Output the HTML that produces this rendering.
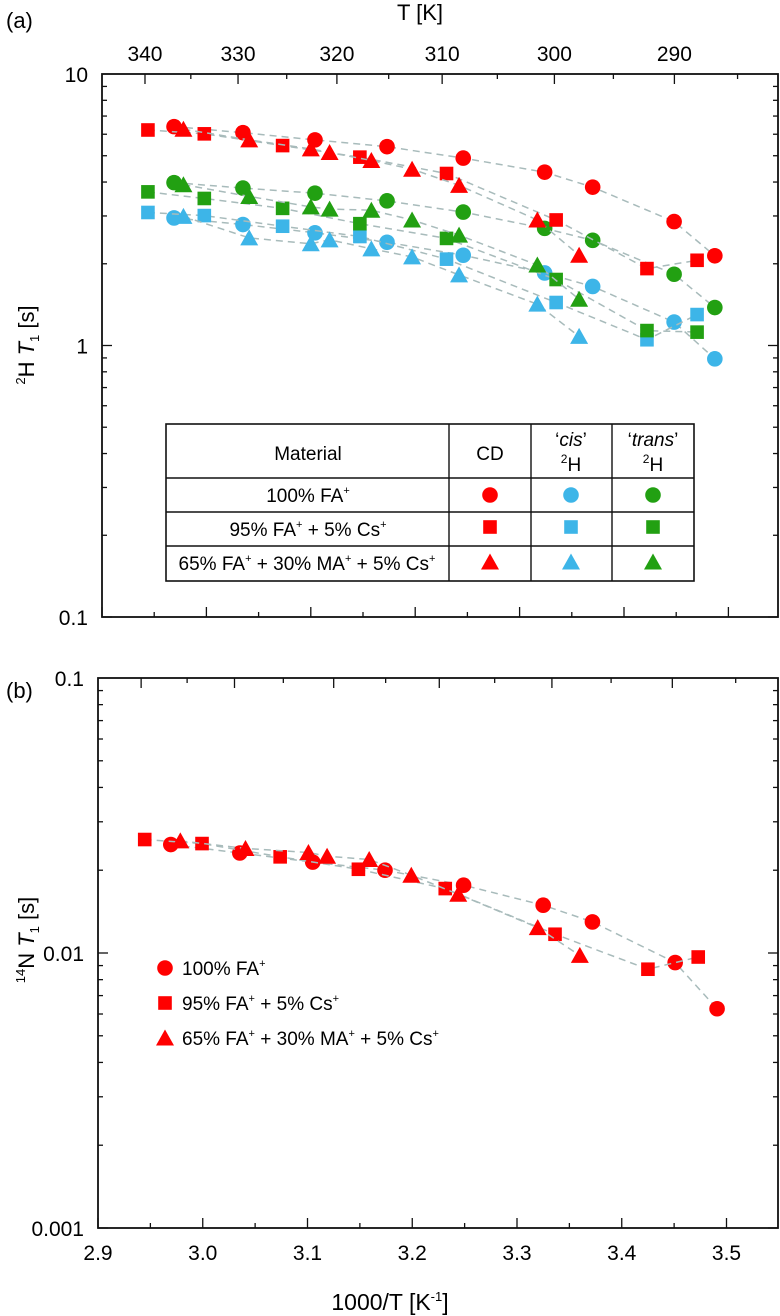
<!DOCTYPE html>
<html><head><meta charset="utf-8"><style>
html,body{margin:0;padding:0;background:#fff;}
svg{display:block;font-family:"Liberation Sans",Arial,sans-serif;}
</style></head><body>
<svg id="fig" width="780" height="1316" viewBox="0 0 780 1316" xmlns="http://www.w3.org/2000/svg">
<g id="static">
<text x="6" y="28" font-size="22">(a)</text>
<text x="6" y="698" font-size="22">(b)</text>
<text x="420" y="20" font-size="22" text-anchor="middle">T [K]</text>
<text x="390" y="1310" font-size="23" text-anchor="middle">1000/T [K<tspan font-size="13" dy="-9">-1</tspan><tspan dy="9">]</tspan></text>
<text transform="translate(34,345) rotate(-90)" font-size="22" text-anchor="middle"><tspan font-size="13" dy="-9">2</tspan><tspan dy="9">H </tspan><tspan font-style="italic">T</tspan><tspan font-size="13" dy="5">1</tspan><tspan dy="-5"> [s]</tspan></text>
<text transform="translate(34,940) rotate(-90)" font-size="22" text-anchor="middle"><tspan font-size="13" dy="-9">14</tspan><tspan dy="9">N </tspan><tspan font-style="italic">T</tspan><tspan font-size="13" dy="5">1</tspan><tspan dy="-5"> [s]</tspan></text>
</g>
<g id="plots"></g>
</svg>
<script>
// Panel (a) data: x = 1000/T, y = 2H T1 [s]
const aCircX = [2.969,3.035,3.104,3.173,3.246,3.324,3.370,3.448,3.487];
const aCircCD = [6.40,6.08,5.72,5.40,4.90,4.35,3.83,2.86,2.14];
const aCircCis = [2.95,2.79,2.60,2.40,2.15,1.85,1.65,1.22,0.893];
const aCircTrans = [3.98,3.80,3.64,3.41,3.10,2.70,2.44,1.83,1.38];
const aSqX = [2.944,2.998,3.073,3.147,3.230,3.335,3.422,3.470];
const aSqCD = [6.22,6.02,5.45,4.94,4.30,2.90,1.92,2.06];
const aSqCis = [3.09,3.01,2.75,2.52,2.08,1.44,1.05,1.30];
const aSqTrans = [3.68,3.48,3.20,2.81,2.48,1.75,1.135,1.12];
const aTriX = [2.978,3.041,3.100,3.118,3.158,3.197,3.242,3.317,3.357];
const aTriCD = [6.26,5.72,5.30,5.14,4.80,4.46,3.89,2.90,2.15];
const aTriCis = [2.99,2.49,2.37,2.45,2.27,2.12,1.82,1.42,1.08];
const aTriTrans = [3.91,3.54,3.24,3.18,3.15,2.90,2.55,1.98,1.48];
// Panel (b) data: 14N T1 [s]
const bCircX = [2.9695,3.0354,3.105,3.174,3.249,3.325,3.372,3.451,3.491];
const bCircY = [0.0248,0.0231,0.0214,0.0200,0.01764,0.01492,0.01297,0.00923,0.00627];
const bSqX = [2.9446,2.9993,3.0739,3.1486,3.2315,3.3363,3.425,3.473];
const bSqY = [0.02586,0.0250,0.02237,0.02016,0.01715,0.0117,0.00873,0.00967];
const bTriX = [2.9786,3.0408,3.1009,3.1187,3.1589,3.1991,3.2439,3.3198,3.36];
const bTriY = [0.02557,0.0240,0.0232,0.02249,0.02188,0.01918,0.01636,0.01237,0.0098];
const xTickLabels = ["2.9","3.0","3.1","3.2","3.3","3.4","3.5"];
const tTickLabels = ["340","330","320","310","300","290"];
const aYLabels = ["10","1","0.1"];
const bYLabels = ["0.1","0.01","0.001"];

const RED="#ff0000", CYAN="#3db5e8", GREEN="#22a012", LINE="#a8bbbb";
const NS="http://www.w3.org/2000/svg";
const root=document.getElementById('plots');
function mk(tag,attrs,parent){const e=document.createElementNS(NS,tag);for(const k in attrs)e.setAttribute(k,attrs[k]);(parent||root).appendChild(e);return e;}

function panel(cfg){
  const {L,R,T,B,x0,sx,logTop,decades,yLabels,name,bottomLabels}=cfg;
  const X=v=>L+(v-x0)*sx;
  const dec=(B-T)/decades;
  const Y=v=>T+(logTop-Math.log10(v))*dec;
  const g=mk('g',{});
  
  
  const box=mk('rect',{x:L,y:T,width:R-L,height:B-T,fill:'none',stroke:'#111','stroke-width':1.8},g);
  
  
  for(let i=0;i<=13;i++){const v=2.9+i*0.05;const x=X(v);if(x>R)break;const len=i%2==0?10:5;
    mk('line',{x1:x,x2:x,y1:B,y2:B-len,stroke:'#111','stroke-width':1.3},g);}
  if(bottomLabels){xTickLabels.forEach((s,i)=>{const t=mk('text',{x:X(2.9+i*0.1),y:B+32,'font-size':21,'text-anchor':'middle'},g);t.textContent=s;
    
    });}
  for(let k=0;k<=11;k++){const TT=340-k*5;const x=X(1000/TT);const len=k%2==0?10:5;
    mk('line',{x1:x,x2:x,y1:T,y2:T+len,stroke:'#111','stroke-width':1.3},g);}
  if(cfg.topLabels){tTickLabels.forEach((s,i)=>{const t=mk('text',{x:X(1000/(340-i*10)),y:T-13,'font-size':21,'text-anchor':'middle'},g);t.textContent=s;
    
    });}
  for(let d=0;d<decades;d++){for(let m=1;m<=9;m++){const v=Math.pow(10,logTop-d-1)*m;const y=Y(v);const len=m==1?10:5;
    mk('line',{x1:L,x2:L+len,y1:y,y2:y,stroke:'#111','stroke-width':1.3},g);
    mk('line',{x1:R,x2:R-len,y1:y,y2:y,stroke:'#111','stroke-width':1.3},g);}}
  yLabels.forEach((s,i)=>{const t=mk('text',{x:L-14,y:T+i*dec+8,'font-size':21,'text-anchor':'end'},g);t.textContent=s;
    
    });
  return {X,Y,g};
}
function series(P,xs,ys,shape,color,name){
  const pts=xs.map((x,i)=>P.X(x).toFixed(1)+','+P.Y(ys[i]).toFixed(1)).join(' ');
  const pl=mk('polyline',{points:pts,fill:'none',stroke:LINE,'stroke-width':1.5,'stroke-dasharray':'7,5'},P.g);
  
  
  xs.forEach((x,i)=>{const e=marker(P.X(x),P.Y(ys[i]),shape,color,P.g);
    
    });
}
function marker(cx,cy,shape,color,parent){
  if(shape=='c')return mk('circle',{cx:cx,cy:cy,r:7.8,fill:color},parent);
  if(shape=='s')return mk('rect',{x:cx-6.8,y:cy-6.8,width:13.6,height:13.6,fill:color},parent);
  return mk('polygon',{points:`${cx},${cy-8.5} ${cx+9},${cy+7.5} ${cx-9},${cy+7.5}`,fill:color},parent);
}
const A=panel({L:102,R:778,T:74,B:617,x0:2.9,sx:1044,logTop:1,decades:2,yLabels:aYLabels,name:'panel-a',topLabels:true,bottomLabels:false});
series(A,aCircX,aCircCD,'c',RED,'a-circle-cd');
series(A,aCircX,aCircCis,'c',CYAN,'a-circle-cis');
series(A,aCircX,aCircTrans,'c',GREEN,'a-circle-trans');
series(A,aSqX,aSqCD,'s',RED,'a-square-cd');
series(A,aSqX,aSqCis,'s',CYAN,'a-square-cis');
series(A,aSqX,aSqTrans,'s',GREEN,'a-square-trans');
series(A,aTriX,aTriCD,'t',RED,'a-triangle-cd');
series(A,aTriX,aTriCis,'t',CYAN,'a-triangle-cis');
series(A,aTriX,aTriTrans,'t',GREEN,'a-triangle-trans');

const B=panel({L:98,R:778,T:678,B:1228,x0:2.9,sx:1047.5,logTop:-1,decades:2,yLabels:bYLabels,name:'panel-b',topLabels:false,bottomLabels:true});
series(B,bCircX,bCircY,'c',RED,'b-circle');
series(B,bSqX,bSqY,'s',RED,'b-square');
series(B,bTriX,bTriY,'t',RED,'b-triangle');

const tg=mk('g',{});


mk('rect',{x:166,y:424,width:528,height:157,fill:'#fff',stroke:'#111','stroke-width':1.6},tg);
[478,512,546].forEach(y=>mk('line',{x1:166,x2:694,y1:y,y2:y,stroke:'#111','stroke-width':1.4},tg));
[449,531,612].forEach(x=>mk('line',{x1:x,x2:x,y1:424,y2:581,stroke:'#111','stroke-width':1.4},tg));
function txt(x,y,s,fs,parent,name){const t=mk('text',{x:x,y:y,'font-size':fs||17,'text-anchor':'middle'},parent);t.innerHTML=s;
  
  return t;}
txt(308,460,'Material',19,tg,'table-header-material');
txt(490,460,'CD',19,tg,'table-header-cd');
txt(571,446,'‘<tspan font-style="italic">cis</tspan>’',19,tg,'table-header-cis');
txt(571,471,'<tspan font-size="12" dy="-8">2</tspan><tspan dy="8">H</tspan>',19,tg,'table-header-cis-h');
txt(653,446,'‘<tspan font-style="italic">trans</tspan>’',19,tg,'table-header-trans');
txt(653,471,'<tspan font-size="12" dy="-8">2</tspan><tspan dy="8">H</tspan>',19,tg,'table-header-trans-h');
const sup='<tspan font-size="11" dy="-8">+</tspan><tspan dy="8">';
txt(308,502,'100% FA'+sup+'</tspan>',19,tg,'table-row-fa');
txt(308,536,'95% FA'+sup+' + 5% Cs</tspan>'+sup+'</tspan>',19,tg,'table-row-fa-cs');
txt(307,570,'65% FA'+sup+' + 30% MA</tspan>'+sup+' + 5% Cs</tspan>'+sup+'</tspan>',19,tg,'table-row-fa-ma-cs');
[['c',497],['s',529],['t',564]].forEach(([sh,y])=>{
  [[490,RED],[571,CYAN],[653,GREEN]].forEach(([x,c])=>{const e=marker(x,y-2,sh,c,tg);
    
    });});

const lg=mk('g',{});


[['c',968,'100% FA'+sup+'</tspan>'],['s',1003,'95% FA'+sup+' + 5% Cs</tspan>'+sup+'</tspan>'],['t',1038,'65% FA'+sup+' + 30% MA</tspan>'+sup+' + 5% Cs</tspan>'+sup+'</tspan>']].forEach(([sh,y,s])=>{
  const e=marker(165,y,sh,RED,lg);
  
  
  const t=mk('text',{x:182,y:y+7,'font-size':19},lg);t.innerHTML=s;
  
  
});
</script>
</body></html>
